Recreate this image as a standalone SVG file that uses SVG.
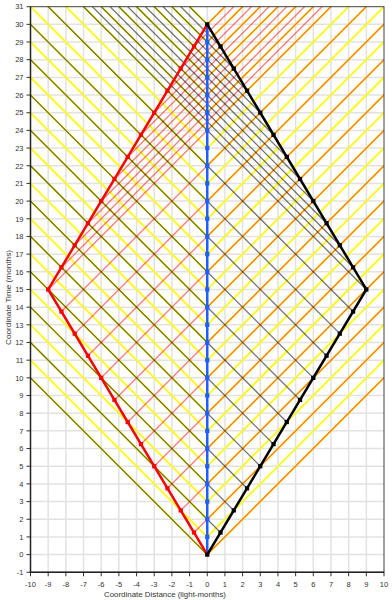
<svg xmlns="http://www.w3.org/2000/svg" xmlns:xlink="http://www.w3.org/1999/xlink" width="392" height="600" viewBox="0 0 392 600">
<style>
.g{fill:none;stroke:#e2e2e2;stroke-width:1.5;vector-effect:non-scaling-stroke}
.tk{fill:none;stroke:#333;stroke-width:1;vector-effect:non-scaling-stroke}
.ye{fill:none;stroke:#ffff00;stroke-width:1.8;vector-effect:non-scaling-stroke}
.rs{fill:none;stroke:#ff0000;stroke-opacity:0.5;stroke-width:1.4;vector-effect:non-scaling-stroke}
.bs{fill:none;stroke:#000;stroke-opacity:0.55;stroke-width:1.3;vector-effect:non-scaling-stroke}
.wl{fill:none;stroke-width:2.5;stroke-linejoin:miter;vector-effect:non-scaling-stroke}
.lab{font-family:"Liberation Sans",Arial,sans-serif;font-size:7.5px;fill:#333}
.ttl{font-family:"Liberation Sans",Arial,sans-serif;font-size:8px;fill:#333}
</style>
<defs>
<clipPath id="plot" clipPathUnits="userSpaceOnUse"><rect x="-10" y="-1" width="20" height="32"/></clipPath>
<rect id="dot" x="-0.12" y="-0.12" width="0.24" height="0.24"/>
</defs>
<rect width="392" height="600" fill="#fff"/>
<g transform="matrix(17.675 0 0 -17.675 207.25 554.6)">
<g id="grid">
<path class="g" d="M-9 -1V31M-8 -1V31M-7 -1V31M-6 -1V31M-5 -1V31M-4 -1V31M-3 -1V31M-2 -1V31M-1 -1V31M0 -1V31M1 -1V31M2 -1V31M3 -1V31M4 -1V31M5 -1V31M6 -1V31M7 -1V31M8 -1V31M9 -1V31M-10 0H10M-10 1H10M-10 2H10M-10 3H10M-10 4H10M-10 5H10M-10 6H10M-10 7H10M-10 8H10M-10 9H10M-10 10H10M-10 11H10M-10 12H10M-10 13H10M-10 14H10M-10 15H10M-10 16H10M-10 17H10M-10 18H10M-10 19H10M-10 20H10M-10 21H10M-10 22H10M-10 23H10M-10 24H10M-10 25H10M-10 26H10M-10 27H10M-10 28H10M-10 29H10M-10 30H10"/>
<path class="tk" d="M-10 -1v-0.226M-9 -1v-0.226M-8 -1v-0.226M-7 -1v-0.226M-6 -1v-0.226M-5 -1v-0.226M-4 -1v-0.226M-3 -1v-0.226M-2 -1v-0.226M-1 -1v-0.226M0 -1v-0.226M1 -1v-0.226M2 -1v-0.226M3 -1v-0.226M4 -1v-0.226M5 -1v-0.226M6 -1v-0.226M7 -1v-0.226M8 -1v-0.226M9 -1v-0.226M10 -1v-0.226M-10 -1h-0.226M-10 0h-0.226M-10 1h-0.226M-10 2h-0.226M-10 3h-0.226M-10 4h-0.226M-10 5h-0.226M-10 6h-0.226M-10 7h-0.226M-10 8h-0.226M-10 9h-0.226M-10 10h-0.226M-10 11h-0.226M-10 12h-0.226M-10 13h-0.226M-10 14h-0.226M-10 15h-0.226M-10 16h-0.226M-10 17h-0.226M-10 18h-0.226M-10 19h-0.226M-10 20h-0.226M-10 21h-0.226M-10 22h-0.226M-10 23h-0.226M-10 24h-0.226M-10 25h-0.226M-10 26h-0.226M-10 27h-0.226M-10 28h-0.226M-10 29h-0.226M-10 30h-0.226M-10 31h-0.226"/>
</g>
<g id="connectors" clip-path="url(#plot)">
<path id="earth-signals" class="ye" d="M0 0l40 40M0 0l-40 40M0 1l40 40M0 1l-40 40M0 2l40 40M0 2l-40 40M0 3l40 40M0 3l-40 40M0 4l40 40M0 4l-40 40M0 5l40 40M0 5l-40 40M0 6l40 40M0 6l-40 40M0 7l40 40M0 7l-40 40M0 8l40 40M0 8l-40 40M0 9l40 40M0 9l-40 40M0 10l40 40M0 10l-40 40M0 11l40 40M0 11l-40 40M0 12l40 40M0 12l-40 40M0 13l40 40M0 13l-40 40M0 14l40 40M0 14l-40 40M0 15l40 40M0 15l-40 40M0 16l40 40M0 16l-40 40M0 17l40 40M0 17l-40 40M0 18l40 40M0 18l-40 40M0 19l40 40M0 19l-40 40M0 20l40 40M0 20l-40 40M0 21l40 40M0 21l-40 40M0 22l40 40M0 22l-40 40M0 23l40 40M0 23l-40 40M0 24l40 40M0 24l-40 40M0 25l40 40M0 25l-40 40M0 26l40 40M0 26l-40 40M0 27l40 40M0 27l-40 40M0 28l40 40M0 28l-40 40M0 29l40 40M0 29l-40 40M0 30l40 40M0 30l-40 40"/>
<path id="red-signals" class="rs" d="M0 0l40 40M-0.75 1.25l40 40M-1.5 2.5l40 40M-2.25 3.75l40 40M-3 5l40 40M-3.75 6.25l40 40M-4.5 7.5l40 40M-5.25 8.75l40 40M-6 10l40 40M-6.75 11.25l40 40M-7.5 12.5l40 40M-8.25 13.75l40 40M-9 15l40 40M-8.25 16.25l40 40M-7.5 17.5l40 40M-6.75 18.75l40 40M-6 20l40 40M-5.25 21.25l40 40M-4.5 22.5l40 40M-3.75 23.75l40 40M-3 25l40 40M-2.25 26.25l40 40M-1.5 27.5l40 40M-0.75 28.75l40 40M0 30l40 40"/>
<path id="black-signals" class="bs" d="M0 0l-40 40M0.75 1.25l-40 40M1.5 2.5l-40 40M2.25 3.75l-40 40M3 5l-40 40M3.75 6.25l-40 40M4.5 7.5l-40 40M5.25 8.75l-40 40M6 10l-40 40M6.75 11.25l-40 40M7.5 12.5l-40 40M8.25 13.75l-40 40M9 15l-40 40M8.25 16.25l-40 40M7.5 17.5l-40 40M6.75 18.75l-40 40M6 20l-40 40M5.25 21.25l-40 40M4.5 22.5l-40 40M3.75 23.75l-40 40M3 25l-40 40M2.25 26.25l-40 40M1.5 27.5l-40 40M0.75 28.75l-40 40M0 30l-40 40"/>
</g>
<g id="earth-twin" fill="#1f5fff">
<path class="wl" stroke="#1f5fff" d="M0 0V30"/>
<use href="#dot" x="0" y="1"/><use href="#dot" x="0" y="2"/><use href="#dot" x="0" y="3"/><use href="#dot" x="0" y="4"/><use href="#dot" x="0" y="5"/><use href="#dot" x="0" y="6"/><use href="#dot" x="0" y="7"/><use href="#dot" x="0" y="8"/><use href="#dot" x="0" y="9"/><use href="#dot" x="0" y="10"/><use href="#dot" x="0" y="11"/><use href="#dot" x="0" y="12"/><use href="#dot" x="0" y="13"/><use href="#dot" x="0" y="14"/><use href="#dot" x="0" y="15"/><use href="#dot" x="0" y="16"/><use href="#dot" x="0" y="17"/><use href="#dot" x="0" y="18"/><use href="#dot" x="0" y="19"/><use href="#dot" x="0" y="20"/><use href="#dot" x="0" y="21"/><use href="#dot" x="0" y="22"/><use href="#dot" x="0" y="23"/><use href="#dot" x="0" y="24"/><use href="#dot" x="0" y="25"/><use href="#dot" x="0" y="26"/><use href="#dot" x="0" y="27"/><use href="#dot" x="0" y="28"/><use href="#dot" x="0" y="29"/>
</g>
<g id="red-twin" fill="#ff0000">
<path class="wl" stroke="#ff0000" d="M0 0L-9 15L0 30"/>
<use href="#dot" x="-0.75" y="1.25"/><use href="#dot" x="-1.5" y="2.5"/><use href="#dot" x="-2.25" y="3.75"/><use href="#dot" x="-3" y="5"/><use href="#dot" x="-3.75" y="6.25"/><use href="#dot" x="-4.5" y="7.5"/><use href="#dot" x="-5.25" y="8.75"/><use href="#dot" x="-6" y="10"/><use href="#dot" x="-6.75" y="11.25"/><use href="#dot" x="-7.5" y="12.5"/><use href="#dot" x="-8.25" y="13.75"/><use href="#dot" x="-9" y="15"/><use href="#dot" x="-8.25" y="16.25"/><use href="#dot" x="-7.5" y="17.5"/><use href="#dot" x="-6.75" y="18.75"/><use href="#dot" x="-6" y="20"/><use href="#dot" x="-5.25" y="21.25"/><use href="#dot" x="-4.5" y="22.5"/><use href="#dot" x="-3.75" y="23.75"/><use href="#dot" x="-3" y="25"/><use href="#dot" x="-2.25" y="26.25"/><use href="#dot" x="-1.5" y="27.5"/><use href="#dot" x="-0.75" y="28.75"/>
</g>
<g id="black-twin" fill="#000">
<path class="wl" stroke="#000" d="M0 0L9 15L0 30"/>
<use href="#dot" x="0" y="0"/><use href="#dot" x="0.75" y="1.25"/><use href="#dot" x="1.5" y="2.5"/><use href="#dot" x="2.25" y="3.75"/><use href="#dot" x="3" y="5"/><use href="#dot" x="3.75" y="6.25"/><use href="#dot" x="4.5" y="7.5"/><use href="#dot" x="5.25" y="8.75"/><use href="#dot" x="6" y="10"/><use href="#dot" x="6.75" y="11.25"/><use href="#dot" x="7.5" y="12.5"/><use href="#dot" x="8.25" y="13.75"/><use href="#dot" x="9" y="15"/><use href="#dot" x="8.25" y="16.25"/><use href="#dot" x="7.5" y="17.5"/><use href="#dot" x="6.75" y="18.75"/><use href="#dot" x="6" y="20"/><use href="#dot" x="5.25" y="21.25"/><use href="#dot" x="4.5" y="22.5"/><use href="#dot" x="3.75" y="23.75"/><use href="#dot" x="3" y="25"/><use href="#dot" x="2.25" y="26.25"/><use href="#dot" x="1.5" y="27.5"/><use href="#dot" x="0.75" y="28.75"/><use href="#dot" x="0" y="30"/>
</g>
</g>
<g id="frame">
<rect x="30.5" y="6.7" width="353.5" height="565.6" fill="none" stroke="#404040" stroke-width="1"/>
<path d="M30.5 6.7V572.3H384" fill="none" stroke="#222" stroke-width="1.5"/>
</g>
<g id="x-labels" class="lab" text-anchor="middle">
<text x="30.5" y="587">-10</text><text x="48.2" y="587">-9</text><text x="65.9" y="587">-8</text><text x="83.5" y="587">-7</text><text x="101.2" y="587">-6</text><text x="118.9" y="587">-5</text><text x="136.6" y="587">-4</text><text x="154.2" y="587">-3</text><text x="171.9" y="587">-2</text><text x="189.6" y="587">-1</text><text x="207.3" y="587">0</text><text x="224.9" y="587">1</text><text x="242.6" y="587">2</text><text x="260.3" y="587">3</text><text x="278" y="587">4</text><text x="295.6" y="587">5</text><text x="313.3" y="587">6</text><text x="331" y="587">7</text><text x="348.7" y="587">8</text><text x="366.3" y="587">9</text><text x="384" y="587">10</text>
</g>
<g id="y-labels" class="lab" text-anchor="end">
<text x="23.5" y="575">-1</text><text x="23.5" y="557.3">0</text><text x="23.5" y="539.6">1</text><text x="23.5" y="522">2</text><text x="23.5" y="504.3">3</text><text x="23.5" y="486.6">4</text><text x="23.5" y="468.9">5</text><text x="23.5" y="451.3">6</text><text x="23.5" y="433.6">7</text><text x="23.5" y="415.9">8</text><text x="23.5" y="398.2">9</text><text x="23.5" y="380.6">10</text><text x="23.5" y="362.9">11</text><text x="23.5" y="345.2">12</text><text x="23.5" y="327.5">13</text><text x="23.5" y="309.9">14</text><text x="23.5" y="292.2">15</text><text x="23.5" y="274.5">16</text><text x="23.5" y="256.8">17</text><text x="23.5" y="239.2">18</text><text x="23.5" y="221.5">19</text><text x="23.5" y="203.8">20</text><text x="23.5" y="186.1">21</text><text x="23.5" y="168.5">22</text><text x="23.5" y="150.8">23</text><text x="23.5" y="133.1">24</text><text x="23.5" y="115.4">25</text><text x="23.5" y="97.8">26</text><text x="23.5" y="80.1">27</text><text x="23.5" y="62.4">28</text><text x="23.5" y="44.7">29</text><text x="23.5" y="27.1">30</text><text x="23.5" y="9.4">31</text>
</g>
<text class="ttl" x="104" y="597" textLength="122" lengthAdjust="spacingAndGlyphs">Coordinate Distance (light-months)</text>
<text class="ttl" transform="translate(10.5 345) rotate(-90)" x="0" y="0" textLength="95" lengthAdjust="spacingAndGlyphs">Coordinate Time (months)</text>
</svg>
